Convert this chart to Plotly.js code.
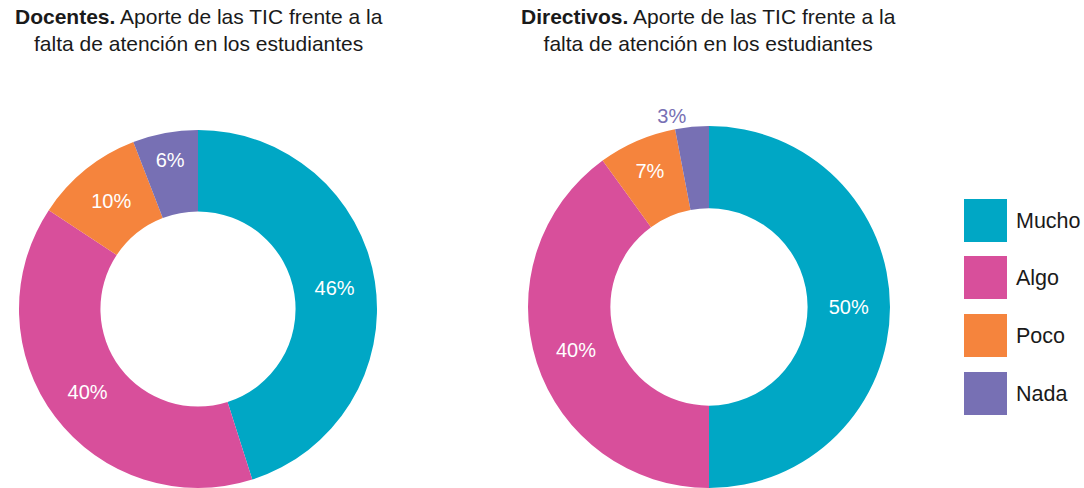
<!DOCTYPE html>
<html>
<head>
<meta charset="utf-8">
<script src="https://cdn.plot.ly/plotly-3.0.1.min.js"></script>
<style>html,body{margin:0;padding:0;background:#fff;}#chart{width:1084px;height:488px;}</style>
</head>
<body>
<div id="chart"></div>
<script>
const categories = ['Mucho', 'Algo', 'Poco', 'Nada'];
const docentesValues = [46, 40, 10, 6];
const directivosValues = [50, 40, 7, 3];
const colors = ['#00A7C5', '#D84F9B', '#F5843D', '#7770B4'];
const titleDocentes = '<b>Docentes.</b> Aporte de las TIC frente a la<br>falta de atención en los estudiantes';
const titleDirectivos = '<b>Directivos.</b> Aporte de las TIC frente a la<br>falta de atención en los estudiantes';

const W = 1084, H = 488;
const FONT = 'Liberation Sans, Arial, Helvetica, sans-serif';

function pieTrace(values, domain, positions) {
  return {
    type: 'pie',
    labels: categories,
    values: values,
    text: values.map(v => v + '%'),
    textinfo: 'text',
    hoverinfo: 'label+text',
    sort: false,
    direction: 'clockwise',
    rotation: 0,
    hole: 0.545,
    marker: {colors: colors, line: {color: '#ffffff', width: 0}},
    textposition: positions,
    insidetextorientation: 'horizontal',
    insidetextfont: {family: FONT, size: 20, color: '#ffffff'},
    outsidetextfont: {family: FONT, size: 20, color: colors[3]},
    domain: domain,
    showlegend: false
  };
}

const traces = [
  pieTrace(docentesValues, {x: [18 / W, 378 / W], y: [0, 358 / H]}, ['inside', 'inside', 'inside', 'inside']),
  pieTrace(directivosValues, {x: [528 / W, 890 / W], y: [0, 362 / H]}, ['inside', 'inside', 'inside', 'outside'])
];

const annotations = [
  {text: titleDocentes, x: 199 / W, y: 1 - 3 / H, xref: 'paper', yref: 'paper', xanchor: 'center', yanchor: 'top',
   showarrow: false, align: 'center', font: {family: FONT, size: 21, color: '#1a1a1a'}},
  {text: titleDirectivos, x: 708 / W, y: 1 - 3 / H, xref: 'paper', yref: 'paper', xanchor: 'center', yanchor: 'top',
   showarrow: false, align: 'center', font: {family: FONT, size: 21, color: '#1a1a1a'}}
];
const shapes = [];
const legendTops = [199, 256, 314, 372];
categories.forEach((c, i) => {
  const top = legendTops[i];
  shapes.push({type: 'rect', xref: 'paper', yref: 'paper',
    x0: 964 / W, x1: 1007 / W, y0: 1 - (top + 43) / H, y1: 1 - top / H,
    fillcolor: colors[i], line: {width: 0}});
  annotations.push({text: c, x: 1014 / W, y: 1 - (top + 21.5) / H, xref: 'paper', yref: 'paper',
    xanchor: 'left', yanchor: 'middle', showarrow: false,
    font: {family: FONT, size: 21.5, color: '#1a1a1a'}});
});

const layout = {
  width: W, height: H,
  margin: {l: 0, r: 0, t: 0, b: 0},
  paper_bgcolor: '#ffffff',
  showlegend: false,
  annotations: annotations,
  shapes: shapes,
  font: {family: FONT}
};

Plotly.newPlot('chart', traces, layout, {displayModeBar: false, staticPlot: true});
</script>
</body>
</html>
